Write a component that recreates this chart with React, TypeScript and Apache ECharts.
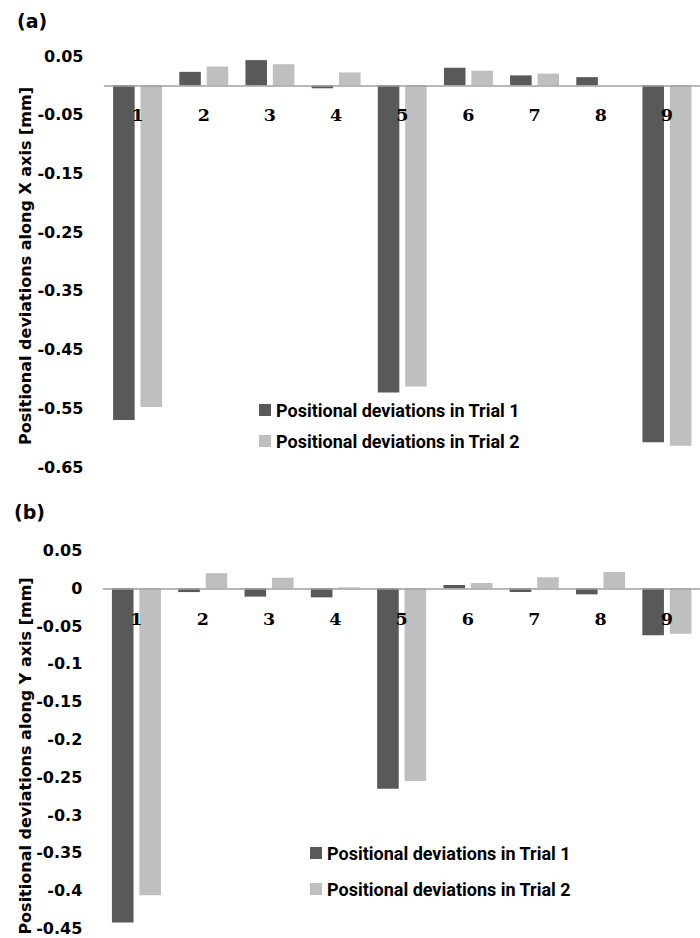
import { useEffect, useRef } from "react";
import * as echarts from "echarts";

const categories = ["1", "2", "3", "4", "5", "6", "7", "8", "9"];
const trialNames = ["Positional deviations in Trial 1", "Positional deviations in Trial 2"];
const axisNames = ["Positional deviations along X axis [mm]", "Positional deviations along Y axis [mm]"];
const panelTitles = ["(a)", "(b)"];

// (a) deviations along X axis [mm]
const xTrial1 = [-0.57, 0.023, 0.043, -0.005, -0.523, 0.03, 0.017, 0.014, -0.608];
const xTrial2 = [-0.548, 0.032, 0.036, 0.022, -0.513, 0.025, 0.02, 0, -0.614];

// (b) deviations along Y axis [mm]
const yTrial1 = [-0.442, -0.005, -0.011, -0.012, -0.265, 0.0044, -0.005, -0.008, -0.062];
const yTrial2 = [-0.406, 0.02, 0.014, 0.0013, -0.255, 0.007, 0.0146, 0.0216, -0.06];

const xTicks = [0.05, -0.05, -0.15, -0.25, -0.35, -0.45, -0.55, -0.65];
const yTicks = [0.05, 0, -0.05, -0.1, -0.15, -0.2, -0.25, -0.3, -0.35, -0.4, -0.45];

const DARK = "#595959";
const LIGHT = "#bfbfbf";
const SANS = "DejaVu Sans";

export default function App() {
  const ref = useRef<HTMLDivElement>(null);

  useEffect(() => {
    document.body.style.margin = "0";
    if (!ref.current) return;
    const chart = echarts.init(ref.current, null, { renderer: "svg" });

    const catAxis = (gridIndex: number, margin: number) => ({
      type: "category",
      gridIndex,
      data: categories,
      z: 10,
      axisTick: { show: false },
      axisLine: { onZero: true, lineStyle: { color: "#a0a0a0", width: 1.5 } },
      axisLabel: {
        interval: 0,
        margin,
        color: "#000",
        fontFamily: "DejaVu Serif",
        fontWeight: "bold",
        fontSize: 17.5,
      },
    });

    const valAxis = (gridIndex: number, min: number, max: number, ticks: number[]) => ({
      type: "value",
      gridIndex,
      min,
      max,
      axisLine: { show: false },
      axisTick: { show: false },
      splitLine: { show: false },
      axisLabel: {
        customValues: ticks,
        margin: 21,
        color: "#000",
        fontFamily: SANS,
        fontWeight: "bold",
        fontSize: 16,
      },
    });

    const legendStyle = {
      color: "#000",
      fontFamily: "Roboto",
      fontWeight: "bold",
      fontSize: 18,
      lineHeight: 18,
    };

    const bar = (name: string, data: number[], color: string, idx: number) => ({
      type: "bar",
      name,
      data,
      xAxisIndex: idx,
      yAxisIndex: idx,
      itemStyle: { color },
      barCategoryGap: "26%",
      barGap: "27%",
    });

    const titleStyle = { fontFamily: SANS, fontWeight: "bold", fontSize: 19, color: "#000" };
    const nameStyle = {
      text: "",
      fill: "#000",
      fontFamily: SANS,
      fontWeight: "bold",
      fontSize: 16,
      align: "center",
      verticalAlign: "middle",
    };

    chart.setOption({
      animation: false,
      backgroundColor: "#fff",
      title: [
        { text: panelTitles[0], left: 17, top: 11, padding: 0, textStyle: titleStyle },
        { text: panelTitles[1], left: 14, top: 502, padding: 0, textStyle: titleStyle },
      ],
      legend: [
        {
          data: trialNames,
          orient: "vertical",
          left: 259,
          top: 401,
          padding: 0,
          itemWidth: 12,
          itemHeight: 12,
          itemGap: 13,
          icon: "rect",
          selectedMode: false,
          textStyle: legendStyle,
        },
        {
          data: trialNames,
          orient: "vertical",
          left: 310,
          top: 844,
          padding: 0,
          itemWidth: 12,
          itemHeight: 12,
          itemGap: 18,
          icon: "rect",
          selectedMode: false,
          textStyle: legendStyle,
        },
      ],
      graphic: [
        { type: "text", x: 25, y: 266, rotation: Math.PI / 2, style: { ...nameStyle, text: axisNames[0] } },
        { type: "text", x: 25, y: 756, rotation: Math.PI / 2, style: { ...nameStyle, text: axisNames[1] } },
      ],
      grid: [
        { left: 104.5, top: 56, width: 605, height: 411 },
        { left: 103.3, top: 550.5, width: 606, height: 378 },
      ],
      xAxis: [catAxis(0, -361), catAxis(1, -319)],
      yAxis: [valAxis(0, -0.65, 0.05, xTicks), valAxis(1, -0.45, 0.05, yTicks)],
      series: [
        bar(trialNames[0], xTrial1, DARK, 0),
        bar(trialNames[1], xTrial2, LIGHT, 0),
        bar(trialNames[0], yTrial1, DARK, 1),
        bar(trialNames[1], yTrial2, LIGHT, 1),
      ],
    });

    return () => chart.dispose();
  }, []);

  return <div ref={ref} style={{ width: 700, height: 938 }} />;
}
